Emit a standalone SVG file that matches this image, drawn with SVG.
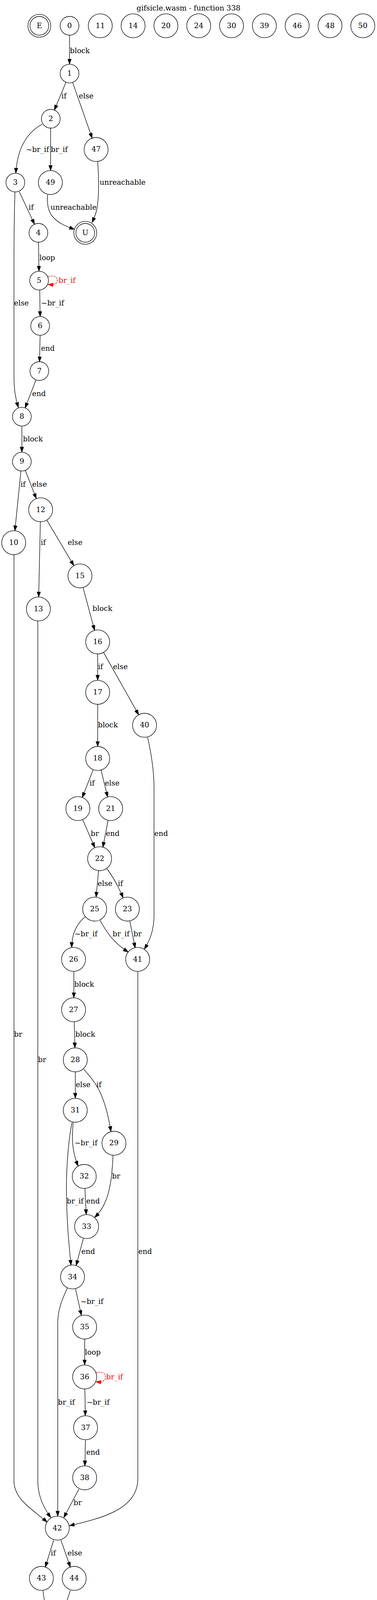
<svg xmlns="http://www.w3.org/2000/svg" width="965" height="4332" viewBox="0 0 965 4332">
<defs>
<style>
text{font-family:"DejaVu Serif","Liberation Serif",serif;font-size:18.67px;fill:#000}
.node circle{fill:none;stroke:#000;stroke-width:1.33}
.node text{text-anchor:middle}
.edges path{fill:none;stroke:#000;stroke-width:1.33;marker-end:url(#a)}
.edges path.red{stroke:#ff0000;stroke-dasharray:5,2;marker-end:url(#ar)}
.edges text.red{fill:#ff0000}
</style>
<marker id="a" markerUnits="userSpaceOnUse" markerWidth="14" markerHeight="10" refX="13.3" refY="4.67" orient="auto"><path d="M0,0 L13.3,4.67 L0,9.33 Z" fill="#000" stroke="#000" stroke-width="1"/></marker>
<marker id="ar" markerUnits="userSpaceOnUse" markerWidth="14" markerHeight="10" refX="13.3" refY="4.67" orient="auto"><path d="M0,0 L13.3,4.67 L0,9.33 Z" fill="#ff0000" stroke="#ff0000" stroke-width="1"/></marker>
</defs>
<rect x="0" y="0" width="965" height="4332" fill="#fff"/>
<text x="482.5" y="26.5" text-anchor="middle">gifsicle.wasm - function 338</text>

<g class="edges">
<path d="M178,90 L178,164.3"/>
<path d="M168.8,210.5 L139.2,281.8"/>
<path d="M185.9,210.9 L235.9,353.7"/>
<path d="M108,318 C75,336 45,370 40.5,443.3"/>
<path d="M129.5,328 L129.5,436.6"/>
<path d="M250,413.3 C253,450 254,500 248,535 C245,550 240,560 235.5,569.5"/>
<path d="M121.7,498.3 C120,520 122,540 135,555 C150,572 170,580 190.5,587"/>
<path d="M49.3,490.7 L88.3,574"/>
<path d="M38.3,490.7 C36,560 35.7,620 35.7,700 L35.7,960 C35.7,1000 40,1020 47,1043"/>
<path d="M98.5,620 L99.8,694.3"/>
<path class="red" d="M122.7,708.3 C133,704 146.7,707 146.7,718.3 C146.7,726 140,729.5 122.7,728.3"/>
<path d="M101.7,742.3 L102.7,810.3"/>
<path d="M102.7,858.3 L101.2,926"/>
<path d="M92.1,972.4 L64.3,1044.3"/>
<path d="M56,1090.7 L56,1157.7"/>
<path d="M53.6,1205.6 L38.1,1358.8"/>
<path d="M64.7,1204.1 L92.9,1276.4"/>
<path d="M103.3,1335.7 L99,1528.3"/>
<path d="M119.7,1331.4 L189,1447.9"/>
<path d="M212.6,1504 L242.1,1613.7"/>
<path d="M250,1674 L250,1741.6"/>
<path d="M265,1670.1 L355,1829.9"/>
<path d="M35.7,1420 L35.7,3790 C35.7,3840 85,3865 120.7,3896.7"/>
<path d="M96.7,1590 L96.7,3790 C96.7,3830 112,3860 130,3885"/>
<path d="M352.7,2487 L352.7,3786 C352.7,3860 270,3885 177.7,3905.7"/>
<path d="M250,1803 L250,1911"/>
<path d="M377.7,1887.3 C390,1940 394.3,1980 394.3,2020 L394.3,2340 C394.3,2380 385,2405 369.3,2430"/>
<path d="M238.5,1970.5 L210.6,2041.5"/>
<path d="M258.5,1970.5 L275.5,2040.3"/>
<path d="M212,2099 L242.7,2170"/>
<path d="M276.7,2100 L263.3,2169"/>
<path d="M252.3,2229 L246,2296.7"/>
<path d="M274,2224 C285,2240 295,2255 301,2268 C306,2278 311,2288 315,2298.3"/>
<path d="M217.3,2347.3 C200,2362 184,2385 183.5,2425.5"/>
<path d="M256,2356 C272,2385 290,2413 328.3,2437.3"/>
<path d="M332.3,2358 L346,2426.7"/>
<path d="M189,2487 L189,2554.3"/>
<path d="M190,2615.7 L191.7,2682.6"/>
<path d="M192.7,2744 L192.7,2811.6"/>
<path d="M214.3,2737.3 C240,2765 255,2790 262,2810 C270,2830 278,2860 284,2896.7"/>
<path d="M187.3,2873.3 C184,2910 183,2945 200,2985"/>
<path d="M184.3,2873.3 C175,2920 170,2990 170,3040 C170,3120 176,3180 181.7,3239"/>
<path d="M289.3,2957.7 C287,3010 282,3050 268,3080 C262,3094 253,3106 242.3,3116.7"/>
<path d="M217.3,3042.3 L220.7,3109.3"/>
<path d="M213.3,3170.7 L195,3239.7"/>
<path d="M193.3,3299.3 L208.3,3367.3"/>
<path d="M172.3,3297.3 C160,3325 147.7,3350 147.7,3390 L147.7,3881.7"/>
<path d="M216.7,3428 L216.7,3494.3"/>
<path class="red" d="M245,3514.3 C257,3510 270.5,3514 270.5,3525 C270.5,3534 262,3539 245.5,3537.5"/>
<path d="M217.3,3555.7 L218.3,3624.3"/>
<path d="M218.7,3685.7 L217.3,3752.6"/>
<path d="M201.7,3812.7 L163.3,3885"/>
<path d="M137.3,3942.7 L116,4011.7"/>
<path d="M156,3942.7 L180,4011.7"/>
<path d="M110,4071.7 C112,4092 116,4110 122,4124 C125,4131 128,4137 131.7,4142.7"/>
<path d="M180,4071.7 L156.7,4142.3"/>
<path d="M146.7,4200 L146.7,4267.3"/>

<text x="179" y="136">block</text>
<text x="157.3" y="252">if</text>
<text x="201.7" y="252">else</text>
<text x="66.7" y="388.5">~br_if</text>
<text x="130" y="388.5">br_if</text>
<text x="255" y="472.5">unreachable</text>
<text x="129.3" y="537">unreachable</text>
<text x="73.3" y="537">if</text>
<text x="100.7" y="666">loop</text>
<text class="red" x="150" y="724">br_if</text>
<text x="36" y="782">else</text>
<text x="105.3" y="782">~br_if</text>
<text x="105" y="897.5">end</text>
<text x="82.3" y="1014">end</text>
<text x="58.7" y="1130">block</text>
<text x="52.6" y="1246">if</text>
<text x="82.3" y="1246">else</text>
<text x="104.3" y="1395">if</text>
<text x="173.3" y="1395">else</text>
<text x="236.7" y="1563.5">block</text>
<text x="250.7" y="1712.5">if</text>
<text x="289.3" y="1712.5">else</text>
<text x="250.7" y="1862">block</text>
<text x="229.3" y="2011">if</text>
<text x="268.3" y="2011">else</text>
<text x="232.3" y="2139.5">br</text>
<text x="271" y="2139.5">end</text>
<text x="395" y="2139.5">end</text>
<text x="250" y="2267.5">else</text>
<text x="301.7" y="2267.5">if</text>
<text x="190.7" y="2397">~br_if</text>
<text x="288.3" y="2397">br_if</text>
<text x="341.7" y="2397">br</text>
<text x="190" y="2526">block</text>
<text x="192.7" y="2654">block</text>
<text x="36" y="2654">br</text>
<text x="97.3" y="2718.5">br</text>
<text x="194" y="2782.5">else</text>
<text x="246.7" y="2782.5">if</text>
<text x="190.7" y="2932">~br_if</text>
<text x="286.7" y="3016.5">br</text>
<text x="170.7" y="3081">br_if</text>
<text x="220.7" y="3081">end</text>
<text x="208.3" y="3210">end</text>
<text x="354" y="3209.5">end</text>
<text x="206" y="3337.5">~br_if</text>
<text x="217.3" y="3467.5">loop</text>
<text class="red" x="271.7" y="3531">br_if</text>
<text x="148.3" y="3596">br_if</text>
<text x="221.7" y="3596">~br_if</text>
<text x="220.7" y="3723.5">end</text>
<text x="188.3" y="3852.5">br</text>
<text x="130" y="3982">if</text>
<text x="172.7" y="3982">else</text>
<text x="120.7" y="4110">end</text>
<text x="172.7" y="4110">end</text>
<text x="148.3" y="4239.5">return</text>
</g>

<g id="nE" class="node"><circle cx="100.7" cy="66" r="24"/><circle cx="100.7" cy="66" r="29.3"/><text x="100.7" y="71.6">E</text></g>
<g id="n0" class="node"><circle cx="178" cy="66" r="24"/><text x="178" y="71.6">0</text></g>
<g id="n11" class="node"><circle cx="256.7" cy="66" r="30.7"/><text x="256.7" y="71.6">11</text></g>
<g id="n14" class="node"><circle cx="340.7" cy="66" r="30.7"/><text x="340.7" y="71.6">14</text></g>
<g id="n20" class="node"><circle cx="424.7" cy="66" r="30.7"/><text x="424.7" y="71.6">20</text></g>
<g id="n24" class="node"><circle cx="508.7" cy="66" r="30.7"/><text x="508.7" y="71.6">24</text></g>
<g id="n30" class="node"><circle cx="592.7" cy="66" r="30.7"/><text x="592.7" y="71.6">30</text></g>
<g id="n39" class="node"><circle cx="676.7" cy="66" r="30.7"/><text x="676.7" y="71.6">39</text></g>
<g id="n46" class="node"><circle cx="760.7" cy="66" r="30.7"/><text x="760.7" y="71.6">46</text></g>
<g id="n48" class="node"><circle cx="844.7" cy="66" r="30.7"/><text x="844.7" y="71.6">48</text></g>
<g id="n50" class="node"><circle cx="928.7" cy="66" r="30.7"/><text x="928.7" y="71.6">50</text></g>
<g id="n1" class="node"><circle cx="178" cy="188.3" r="24"/><text x="178" y="193.9">1</text></g>
<g id="n2" class="node"><circle cx="130" cy="304" r="24"/><text x="130" y="309.6">2</text></g>
<g id="n47" class="node"><circle cx="246" cy="382.7" r="30.7"/><text x="246" y="388.3">47</text></g>
<g id="n3" class="node"><circle cx="39.3" cy="467.3" r="24"/><text x="39.3" y="472.9">3</text></g>
<g id="n49" class="node"><circle cx="129" cy="467.3" r="30.7"/><text x="129" y="472.9">49</text></g>
<g id="nU" class="node"><circle cx="218.3" cy="596" r="24"/><circle cx="218.3" cy="596" r="29.3"/><text x="218.3" y="601.6">U</text></g>
<g id="n4" class="node"><circle cx="98.3" cy="596" r="24"/><text x="98.3" y="601.6">4</text></g>
<g id="n5" class="node"><circle cx="100" cy="718.3" r="24"/><text x="100" y="723.9">5</text></g>
<g id="n6" class="node"><circle cx="102.7" cy="834.3" r="24"/><text x="102.7" y="839.9">6</text></g>
<g id="n7" class="node"><circle cx="100.7" cy="950" r="24"/><text x="100.7" y="955.6">7</text></g>
<g id="n8" class="node"><circle cx="56" cy="1066.7" r="24"/><text x="56" y="1072.3">8</text></g>
<g id="n9" class="node"><circle cx="56" cy="1181.7" r="24"/><text x="56" y="1187.3">9</text></g>
<g id="n12" class="node"><circle cx="104" cy="1305" r="30.7"/><text x="104" y="1310.6">12</text></g>
<g id="n10" class="node"><circle cx="35" cy="1389.3" r="30.7"/><text x="35" y="1394.9">10</text></g>
<g id="n15" class="node"><circle cx="204.7" cy="1474.3" r="30.7"/><text x="204.7" y="1479.9">15</text></g>
<g id="n13" class="node"><circle cx="98.3" cy="1559" r="30.7"/><text x="98.3" y="1564.6">13</text></g>
<g id="n16" class="node"><circle cx="250" cy="1643.3" r="30.7"/><text x="250" y="1648.9">16</text></g>
<g id="n17" class="node"><circle cx="250" cy="1772.3" r="30.7"/><text x="250" y="1777.9">17</text></g>
<g id="n40" class="node"><circle cx="370" cy="1856.7" r="30.7"/><text x="370" y="1862.3">40</text></g>
<g id="n18" class="node"><circle cx="250" cy="1941.7" r="30.7"/><text x="250" y="1947.3">18</text></g>
<g id="n19" class="node"><circle cx="199.3" cy="2070" r="30.7"/><text x="199.3" y="2075.6">19</text></g>
<g id="n21" class="node"><circle cx="283.3" cy="2070" r="30.7"/><text x="283.3" y="2075.6">21</text></g>
<g id="n22" class="node"><circle cx="255" cy="2198.3" r="30.7"/><text x="255" y="2203.9">22</text></g>
<g id="n25" class="node"><circle cx="242.3" cy="2327.3" r="30.7"/><text x="242.3" y="2332.9">25</text></g>
<g id="n23" class="node"><circle cx="326" cy="2327.3" r="30.7"/><text x="326" y="2332.9">23</text></g>
<g id="n26" class="node"><circle cx="188.3" cy="2456" r="30.7"/><text x="188.3" y="2461.6">26</text></g>
<g id="n41" class="node"><circle cx="352.3" cy="2456" r="30.7"/><text x="352.3" y="2461.6">41</text></g>
<g id="n27" class="node"><circle cx="188.3" cy="2585" r="30.7"/><text x="188.3" y="2590.6">27</text></g>
<g id="n28" class="node"><circle cx="192.7" cy="2713.3" r="30.7"/><text x="192.7" y="2718.9">28</text></g>
<g id="n31" class="node"><circle cx="192.7" cy="2842.3" r="30.7"/><text x="192.7" y="2847.9">31</text></g>
<g id="n29" class="node"><circle cx="291.7" cy="2926.7" r="30.7"/><text x="291.7" y="2932.3">29</text></g>
<g id="n32" class="node"><circle cx="215.7" cy="3011.7" r="30.7"/><text x="215.7" y="3017.3">32</text></g>
<g id="n33" class="node"><circle cx="221.7" cy="3140" r="30.7"/><text x="221.7" y="3145.6">33</text></g>
<g id="n34" class="node"><circle cx="185.7" cy="3269" r="30.7"/><text x="185.7" y="3274.6">34</text></g>
<g id="n35" class="node"><circle cx="216.7" cy="3397.3" r="30.7"/><text x="216.7" y="3402.9">35</text></g>
<g id="n36" class="node"><circle cx="216.7" cy="3525" r="30.7"/><text x="216.7" y="3530.6">36</text></g>
<g id="n37" class="node"><circle cx="219" cy="3655" r="30.7"/><text x="219" y="3660.6">37</text></g>
<g id="n38" class="node"><circle cx="216.7" cy="3783.3" r="30.7"/><text x="216.7" y="3788.9">38</text></g>
<g id="n42" class="node"><circle cx="146.7" cy="3912" r="30.7"/><text x="146.7" y="3917.6">42</text></g>
<g id="n43" class="node"><circle cx="106" cy="4040.7" r="30.7"/><text x="106" y="4046.3">43</text></g>
<g id="n44" class="node"><circle cx="190" cy="4040.7" r="30.7"/><text x="190" y="4046.3">44</text></g>
<g id="n45" class="node"><circle cx="146.7" cy="4169.3" r="30.7"/><text x="146.7" y="4174.9">45</text></g>
<g id="nR" class="node"><circle cx="147" cy="4296.7" r="24"/><circle cx="147" cy="4296.7" r="29.3"/><text x="147" y="4302.3">R</text></g>
</svg>
